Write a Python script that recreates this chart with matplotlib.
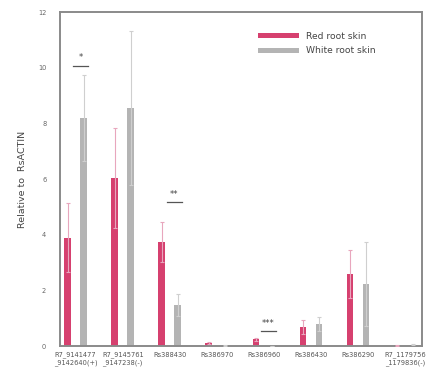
import matplotlib
matplotlib.use("Agg")
import matplotlib.pyplot as plt
import numpy as np

genes = ["R7_9141477\n_9142640(+)", "R7_9145761\n_9147238(-)", "Rs388430", "Rs386970",
         "Rs386960", "Rs386430", "Rs386290", "R7_1179756\n_1179836(-)"]
red_mean = [3.9, 6.04, 3.74, 0.10, 0.25, 0.68, 2.59, 0.03]
red_err = [1.24, 1.80, 0.72, 0.04, 0.05, 0.25, 0.86, 0.01]
white_mean = [8.2, 8.56, 1.47, 0.02, 0.01, 0.79, 2.23, 0.05]
white_err = [1.55, 2.77, 0.40, 0.01, 0.01, 0.25, 1.51, 0.01]
sig_marks = {0: ("*", 10.07), 2: ("**", 5.18), 4: ("***", 0.54)}

red_c = "#d6406f"
white_c = "#b4b4b4"

fig = plt.figure(figsize=(4.39, 3.77), dpi=100)
ax = fig.add_axes([0.137, 0.082, 0.824, 0.886])

x = np.arange(len(genes))
off = 0.17
w = 0.14
ax.bar(x - off, red_mean, w, color=red_c, label="Red root skin", zorder=2)
ax.bar(x + off, white_mean, w, color=white_c, label="White root skin", zorder=2)
ax.errorbar(x - off, red_mean, yerr=red_err, fmt="none", ecolor="#e8a6bd",
            elinewidth=0.8, capsize=1.5, capthick=0.8, zorder=3)
ax.errorbar(x + off, white_mean, yerr=white_err, fmt="none", ecolor="#cfcfcf",
            elinewidth=0.8, capsize=1.5, capthick=0.8, zorder=3)

for i, (txt, yv) in sig_marks.items():
    cx = x[i] + 0.1
    ax.plot([cx - 0.16, cx + 0.16], [yv, yv], color="#555555", lw=0.9)
    ax.text(cx, yv + 0.12, txt, ha="center", va="bottom", fontsize=6, color="#444444")

ax.set_xlim(-0.33, 7.36)
ax.set_ylim(0, 12)
ax.set_yticks([0, 2, 4, 6, 8, 10, 12])
ax.set_xticks(x)
ax.set_xticklabels(genes, fontsize=4.8, color="#555555", linespacing=1.1)
ax.tick_params(axis="y", labelsize=4.8, labelcolor="#666666", length=0, pad=10)
ax.tick_params(axis="x", length=0, pad=4)
for lab in ax.get_xticklabels():
    lab.set_ha("center")
for sp in ax.spines.values():
    sp.set_color("#8a8a8a")
    sp.set_linewidth(1.4)

ax.set_ylabel("Relative to  RsACTIN", fontsize=6.8, color="#444444", labelpad=8)

ax.legend(loc="upper right", bbox_to_anchor=(0.89, 0.96), frameon=False, fontsize=6.6,
          handlelength=4.4, handleheight=0.45, labelspacing=0.6, handletextpad=0.8,
          labelcolor="#444444", borderpad=0.2)

fig.savefig("out.png", dpi=100)
